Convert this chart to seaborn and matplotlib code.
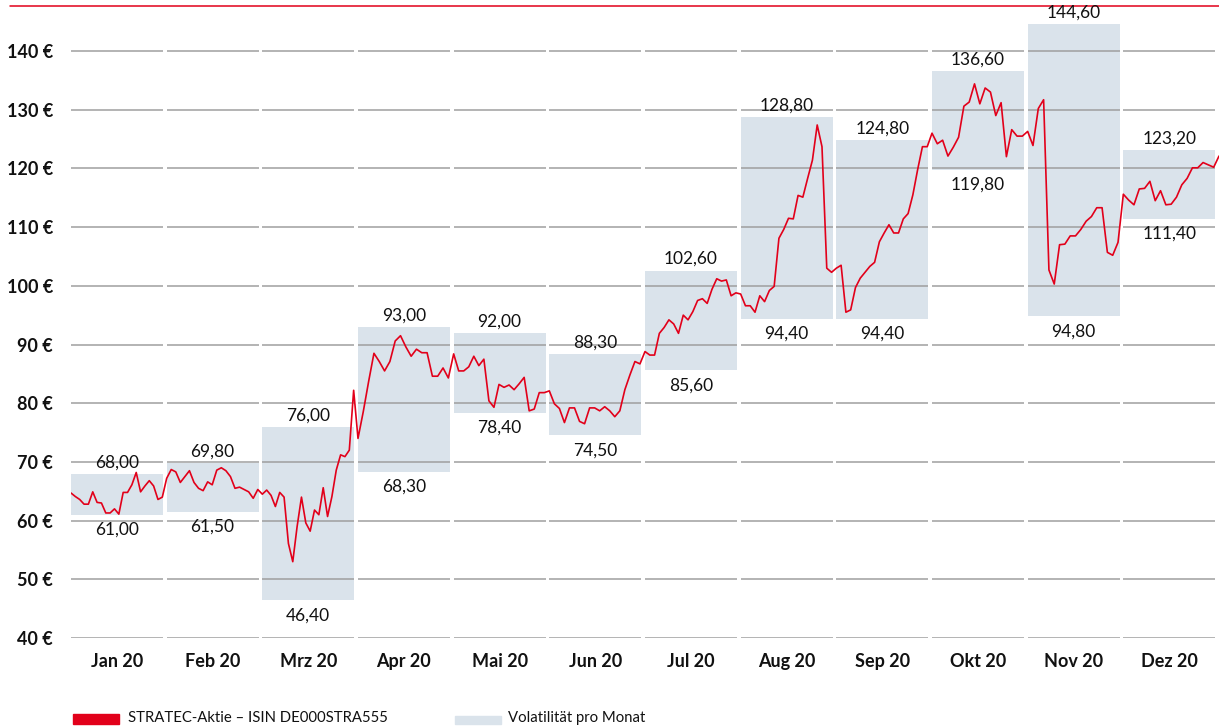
import matplotlib
matplotlib.use("Agg")
import matplotlib.pyplot as plt
from matplotlib.lines import Line2D
from matplotlib.patches import Rectangle
import numpy as np
import pandas as pd
import seaborn as sns

# ---------------- data ----------------
months = ["Jan 20", "Feb 20", "Mrz 20", "Apr 20", "Mai 20", "Jun 20",
          "Jul 20", "Aug 20", "Sep 20", "Okt 20", "Nov 20", "Dez 20"]

vol_high = [68.00, 69.80, 76.00, 93.00, 92.00, 88.30,
            102.60, 128.80, 124.80, 136.60, 144.60, 123.20]
vol_low = [61.00, 61.50, 46.40, 68.30, 78.40, 74.50,
           85.60, 94.40, 94.40, 119.80, 94.80, 111.40]

jan = [64.7, 64.1, 63.6, 62.8, 62.8, 64.9, 63.1, 63.0, 61.3, 61.3, 62.0, 61.1,
       64.8, 64.8, 66.1, 68.2, 64.9, 65.9, 66.8, 65.9, 63.6, 64.0]
feb = [67.2, 68.7, 68.3, 66.5, 67.5, 68.5, 66.5, 65.5, 65.1, 66.6, 66.1, 68.6,
       69.0, 68.5, 67.5, 65.5, 65.7, 65.3, 64.9, 63.8, 65.3]
mrz = [64.5, 65.2, 64.3, 62.4, 64.8, 64.0, 56.1, 53.0, 59.0, 64.0, 59.6, 58.2,
       61.8, 61.0, 65.6, 60.7, 64.1, 68.6, 71.2, 70.9, 72.0, 82.2]
apr = [74.0, 78.6, 83.7, 88.5, 87.1, 85.5, 87.1, 90.6, 91.5, 89.6, 88.0, 89.2,
       88.6, 88.6, 84.6, 84.6, 86.0, 84.3]
mai = [88.4, 85.5, 85.5, 86.2, 88.0, 86.4, 87.5, 80.4, 79.3, 83.2, 82.7, 83.1,
       82.3, 83.3, 84.4, 78.7, 79.0, 81.8, 81.8]
jun = [82.1, 79.9, 79.1, 76.7, 79.2, 79.2, 76.9, 76.5, 79.2, 79.2, 78.7, 79.4,
       78.7, 77.7, 78.7, 82.3, 84.8, 87.1, 86.7]
jul = [88.8, 88.2, 88.2, 91.9, 92.9, 94.2, 93.5, 91.9, 95.0, 94.2, 95.6, 97.5,
       97.8, 97.0, 99.4, 101.2, 100.8, 101.0, 98.3, 98.8]
aug = [98.6, 96.6, 96.6, 95.5, 98.3, 97.3, 99.2, 99.9, 108.1, 109.6, 111.5, 111.4,
       115.4, 115.1, 118.3, 121.4, 127.4, 123.7, 103.0, 102.3]
sep = [103.0, 103.5, 95.5, 95.9, 99.7, 101.3, 102.3, 103.3, 104.0, 107.5, 109.0,
       110.4, 109.0, 109.0, 111.4, 112.3, 115.5, 119.8, 123.7, 123.7]
okt = [126.0, 124.2, 124.8, 122.1, 123.6, 125.3, 130.6, 131.3, 134.4, 131.0,
       133.7, 133.0, 129.0, 131.2, 122.0, 126.6, 125.5, 125.5]
nov = [126.3, 123.9, 130.2, 131.7, 102.7, 100.3, 107.0, 107.1, 108.5, 108.5,
       109.6, 111.0, 111.8, 113.3, 113.3, 105.7, 105.2, 107.4]
dez = [115.6, 114.6, 113.8, 116.5, 116.6, 117.8, 114.5, 116.2, 113.8, 113.9,
       115.1, 117.2, 118.3, 120.1, 120.1, 121.0, 120.6, 120.2, 122.1]

monthly_prices = [jan, feb, mrz, apr, mai, jun, jul, aug, sep, okt, nov, dez]
y_ticks = [40, 50, 60, 70, 80, 90, 100, 110, 120, 130, 140]

legend_line = "STRATEC-Aktie – ISIN DE000STRA555"
legend_box = "Volatilität pro Monat"

# ---------------- style ----------------
RED = "#e2001a"
BOX = "#dae3eb"
GRID = "#9f9f9f"
FONT = "Lato"

sns.set_theme(style="white")
plt.rcParams["font.family"] = [FONT, "DejaVu Sans"]

W, H = 1219, 726
fig = plt.figure(figsize=(W / 100, H / 100), dpi=100)
ax = fig.add_axes([71 / W, (H - 638) / H, 1148 / W, 638 / H])

# build the line data frame
rows = []
for i, vals in enumerate(monthly_prices):
    n = len(vals)
    last = (i == len(monthly_prices) - 1)
    for j, v in enumerate(vals):
        frac = j / (n - 1) if last else j / n
        rows.append({"pos": i + frac, "price": v})
df = pd.DataFrame(rows)

col_w = 0.96

# volatility boxes
for i, (hi, lo) in enumerate(zip(vol_high, vol_low)):
    ax.bar(i, hi - lo, bottom=lo, width=col_w, align="edge", color=BOX,
           edgecolor="none", zorder=1)
    ax.annotate(f"{hi:.2f}".replace(".", ","), (i + col_w / 2, hi),
                xytext=(0, 2.5), textcoords="offset points", ha="center",
                va="bottom", fontsize=12.5, color="#111111", zorder=5)
    ax.annotate(f"{lo:.2f}".replace(".", ","), (i + col_w / 2, lo),
                xytext=(0, -5), textcoords="offset points", ha="center",
                va="top", fontsize=12.5, color="#111111", zorder=5)

# segmented gridlines
for t in y_ticks:
    for i in range(12):
        ax.hlines(t, i, i + col_w, color=GRID, lw=1.1, zorder=2)

# price line
sns.lineplot(data=df, x="pos", y="price", ax=ax, color=RED, lw=1.2,
             zorder=4, sort=False, estimator=None)

ax.set_xlim(0, 12)
ax.set_ylim(40, 40 + 638 / 5.87)
ax.set_yticks(y_ticks)
ax.set_yticklabels([f"{t} €" for t in y_ticks], fontsize=13,
                   fontweight="bold", color="#111111")
ax.set_xticks([i + col_w / 2 for i in range(12)])
ax.set_xticklabels(months, fontsize=13, fontweight="bold", color="#111111")
ax.tick_params(axis="both", length=0)
ax.tick_params(axis="y", pad=13)
ax.tick_params(axis="x", pad=11)
ax.set_xlabel("")
ax.set_ylabel("")
for s in ax.spines.values():
    s.set_visible(False)
ax.patch.set_alpha(0)

# top red rule (behind the axes content)
fig.add_artist(Line2D([10 / W, 1.0], [1 - 6 / H, 1 - 6 / H], color=RED,
                      lw=1.1, zorder=-1))

# legend
fig.add_artist(Rectangle((73 / W, 1 - 724 / H), 46 / W, 10 / H,
                         color=RED, transform=fig.transFigure))
fig.text(128 / W, 1 - 718 / H, legend_line, fontsize=10.7, va="center",
         ha="left", color="#111111")
fig.add_artist(Rectangle((455 / W, 1 - 724 / H), 46 / W, 8 / H,
                         color=BOX, transform=fig.transFigure))
fig.text(508 / W, 1 - 718 / H, legend_box, fontsize=10.7, va="center",
         ha="left", color="#111111")

fig.savefig("out.png", dpi=100)
